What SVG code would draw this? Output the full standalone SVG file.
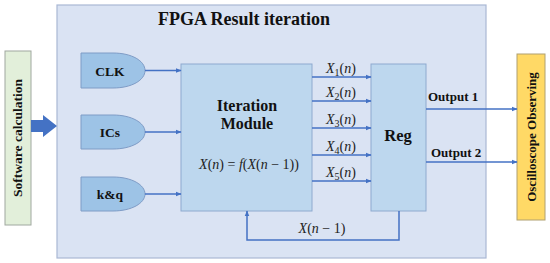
<svg xmlns="http://www.w3.org/2000/svg" width="550" height="263" viewBox="0 0 550 263">
<defs>
<marker id="ah" viewBox="0 0 10 10" refX="9" refY="5" markerWidth="6" markerHeight="6" markerUnits="userSpaceOnUse" orient="auto"><path d="M0,1 L10,5 L0,9 Z" fill="#4472c4"/></marker>
<style>
.b{font-family:"Liberation Serif",serif;font-weight:bold;fill:#111}
.m{font-family:"Liberation Serif",serif;fill:#222;font-size:14px}
.i{font-style:italic}
.ln{fill:none;stroke:#4472c4;stroke-width:1.5}
.d{fill:#9dc3e6;stroke:#7f9cc6;stroke-width:1}
.bx{fill:#bdd7ee;stroke:#8eaacf;stroke-width:1}
</style>
</defs>
<rect width="550" height="263" fill="#fff"/>
<g id="fpga">
<rect x="57" y="5" width="429" height="253" fill="#dae3f3" stroke="#aab8d4" stroke-width="1.2"/>
<text class="b" x="244" y="25" font-size="18" text-anchor="middle">FPGA Result iteration</text>
</g>
<g id="software">
<rect x="5" y="51" width="26" height="174" fill="#e2efda" stroke="#a0a8a0" stroke-width="1"/>
<text class="b" font-size="13.5" text-anchor="middle" transform="translate(22,138) rotate(-90)">Software calculation</text>
</g>
<g id="bigarrow">
<path d="M31,120 H43 V115 L57,126 L43,137 V132 H31 Z" fill="#4472c4"/>
</g>
<g id="clk">
<path class="d" d="M81,53 H113 C132,53 145,61 145,70.5 C145,80 132,88 113,88 H81 Z"/>
<text class="b" x="110" y="76" font-size="13.5" text-anchor="middle">CLK</text>
</g>
<g id="ics">
<path class="d" d="M81,115 H113 C132,115 145,123 145,132 C145,141 132,149 113,149 H81 Z"/>
<text class="b" x="110" y="137" font-size="13.5" text-anchor="middle">ICs</text>
</g>
<g id="kq">
<path class="d" d="M81,177 H113 C132,177 145,185 145,194 C145,203 132,211 113,211 H81 Z"/>
<text class="b" x="110" y="199" font-size="13.5" text-anchor="middle">k&amp;q</text>
</g>
<g id="iteration">
<rect class="bx" x="181" y="64" width="131" height="147"/>
<text class="b" x="247" y="111" font-size="16" text-anchor="middle">Iteration</text>
<text class="b" x="247" y="129" font-size="16" text-anchor="middle">Module</text>
<text class="m" x="249" y="169" font-size="16" text-anchor="middle"><tspan class="i">X</tspan>(<tspan class="i">n</tspan>) = <tspan class="i">f</tspan>(<tspan class="i">X</tspan>(<tspan class="i">n</tspan> − 1))</text>
</g>
<g id="reg">
<rect class="bx" x="371" y="64" width="55" height="147"/>
<text class="b" x="398" y="141" font-size="16.5" text-anchor="middle">Reg</text>
</g>
<g id="oscilloscope">
<rect x="517" y="54" width="28" height="166" fill="#ffd966" stroke="#b0a070" stroke-width="1"/>
<text class="b" font-size="13" text-anchor="middle" transform="translate(536,137) rotate(-90)">Oscilloscope Observing</text>
</g>
<g id="connectors">
<line class="ln" x1="145" y1="70.5" x2="181" y2="70.5" marker-end="url(#ah)"/>
<line class="ln" x1="145" y1="132" x2="181" y2="132" marker-end="url(#ah)"/>
<line class="ln" x1="145" y1="194" x2="181" y2="194" marker-end="url(#ah)"/>
<line class="ln" x1="312" y1="77" x2="371" y2="77" marker-end="url(#ah)"/>
<line class="ln" x1="312" y1="101" x2="371" y2="101" marker-end="url(#ah)"/>
<line class="ln" x1="312" y1="128" x2="371" y2="128" marker-end="url(#ah)"/>
<line class="ln" x1="312" y1="155" x2="371" y2="155" marker-end="url(#ah)"/>
<line class="ln" x1="312" y1="181" x2="371" y2="181" marker-end="url(#ah)"/>
<line class="ln" x1="426" y1="109" x2="517" y2="109" marker-end="url(#ah)"/>
<line class="ln" x1="426" y1="162" x2="517" y2="162" marker-end="url(#ah)"/>
<path class="ln" d="M399,211 V240 H247 V211" marker-end="url(#ah)"/>
<text class="m" x="341" y="73" text-anchor="middle"><tspan class="i">X</tspan><tspan font-size="10" dy="3">1</tspan><tspan dy="-3">(</tspan><tspan class="i">n</tspan>)</text>
<text class="m" x="341" y="97" text-anchor="middle"><tspan class="i">X</tspan><tspan font-size="10" dy="3">2</tspan><tspan dy="-3">(</tspan><tspan class="i">n</tspan>)</text>
<text class="m" x="341" y="124" text-anchor="middle"><tspan class="i">X</tspan><tspan font-size="10" dy="3">3</tspan><tspan dy="-3">(</tspan><tspan class="i">n</tspan>)</text>
<text class="m" x="341" y="151" text-anchor="middle"><tspan class="i">X</tspan><tspan font-size="10" dy="3">4</tspan><tspan dy="-3">(</tspan><tspan class="i">n</tspan>)</text>
<text class="m" x="341" y="177" text-anchor="middle"><tspan class="i">X</tspan><tspan font-size="10" dy="3">5</tspan><tspan dy="-3">(</tspan><tspan class="i">n</tspan>)</text>
<text class="b" x="428" y="101" font-size="13">Output 1</text>
<text class="b" x="431" y="157" font-size="13">Output 2</text>
<text class="m" x="322" y="233" text-anchor="middle"><tspan class="i">X</tspan>(<tspan class="i">n</tspan> − 1)</text>
</g>
</svg>
